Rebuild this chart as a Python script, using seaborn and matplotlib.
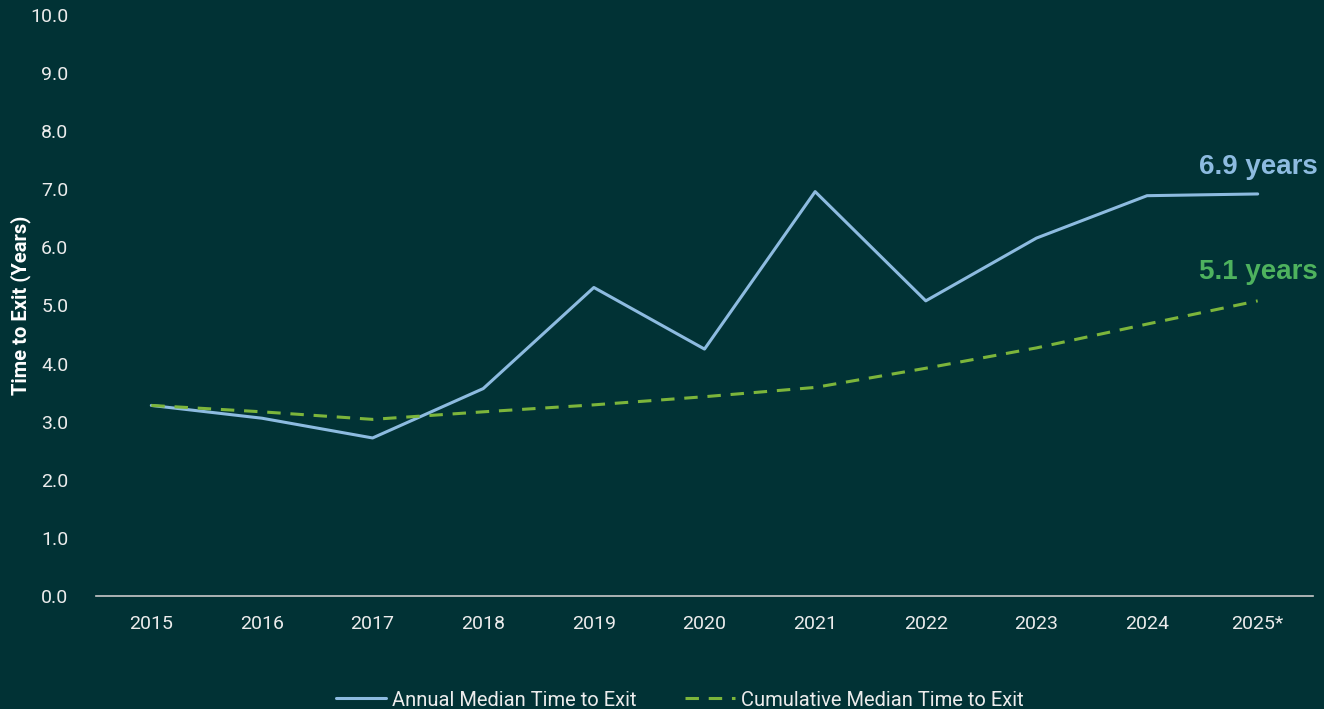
import matplotlib
matplotlib.use("Agg")
import matplotlib.pyplot as plt
import seaborn as sns
import pandas as pd

# Median holding period before exit, by exit year
years = [2015, 2016, 2017, 2018, 2019, 2020, 2021, 2022, 2023, 2024, 2025]
year_labels = ["2015", "2016", "2017", "2018", "2019", "2020", "2021",
               "2022", "2023", "2024", "2025*"]
annual_median = [3.28, 3.06, 2.72, 3.57, 5.31, 4.25, 6.96, 5.08, 6.16, 6.89, 6.92]
cumulative_median = [3.28, 3.17, 3.04, 3.17, 3.29, 3.43, 3.59, 3.92, 4.27, 4.68, 5.08]
series_names = ["Annual Median Time to Exit", "Cumulative Median Time to Exit"]
y_ticks = [0.0, 1.0, 2.0, 3.0, 4.0, 5.0, 6.0, 7.0, 8.0, 9.0, 10.0]

BG = "#013235"
BLUE = "#8dbbe0"
GREEN_LINE = "#7cb53b"
GREEN_TEXT = "#4eb25e"
TEXT = "#ececec"

df = pd.concat([
    pd.DataFrame({"year": years, "value": annual_median, "series": series_names[0]}),
    pd.DataFrame({"year": years, "value": cumulative_median, "series": series_names[1]}),
])

sns.set_theme(style="white")
plt.rcParams["font.family"] = ["Roboto", "DejaVu Sans"]

fig = plt.figure(figsize=(13.24, 7.09), dpi=100, facecolor=BG)
ax = fig.add_axes([96 / 1324, 1 - 596 / 709, (1313 - 96) / 1324, (596 - 15) / 709])
ax.set_facecolor(BG)

sns.lineplot(
    data=df, x="year", y="value", hue="series", style="series",
    palette={series_names[0]: BLUE, series_names[1]: GREEN_LINE},
    dashes={series_names[0]: "", series_names[1]: (4.4, 3.2)},
    linewidth=2.2, ax=ax, legend=True,
)

ax.set_xlim(years[0] - 0.5, years[-1] + 0.5)
ax.set_ylim(0, 10)
ax.set_xticks(years)
ax.set_xticklabels(year_labels)
ax.set_yticks(y_ticks)
ax.set_yticklabels([f"{t:.1f}" for t in y_ticks])
ax.tick_params(axis="both", colors=TEXT, labelsize=14, length=0)
ax.tick_params(axis="x", pad=14)
ax.tick_params(axis="y", pad=20)
ax.set_xlabel("")
ax.set_ylabel("Time to Exit (Years)", color="white", fontsize=14.5,
              fontweight="bold")
ax.yaxis.set_label_coords(-65 / 1217, 0.5)

for side in ["top", "right", "left"]:
    ax.spines[side].set_visible(False)
ax.spines["bottom"].set_color("#c9c9c9")
ax.spines["bottom"].set_linewidth(1.2)

# End-of-series callouts
ax.annotate(f"{annual_median[-1]:.1f} years", xy=(years[-1], annual_median[-1]),
            xytext=(43.5, 19.5), textcoords="offset points", ha="right", va="center",
            color=BLUE, fontsize=20, fontweight="bold",
            family=["Liberation Sans", "DejaVu Sans"])
ax.annotate(f"{cumulative_median[-1]:.1f} years", xy=(years[-1], cumulative_median[-1]),
            xytext=(43.5, 20.5), textcoords="offset points", ha="right", va="center",
            color=GREEN_TEXT, fontsize=20, fontweight="bold",
            family=["Liberation Sans", "DejaVu Sans"])

handles, labels = ax.get_legend_handles_labels()
ax.get_legend().remove()
leg = fig.legend(handles, labels, loc="center", ncol=2,
                 bbox_to_anchor=(680 / 1324, 1 - 700 / 709),
                 frameon=False, fontsize=14.5, handlelength=2.5,
                 handletextpad=0.3, columnspacing=2.4)
for t in leg.get_texts():
    t.set_color(TEXT)

fig.savefig("out.png", dpi=100, facecolor=BG)
